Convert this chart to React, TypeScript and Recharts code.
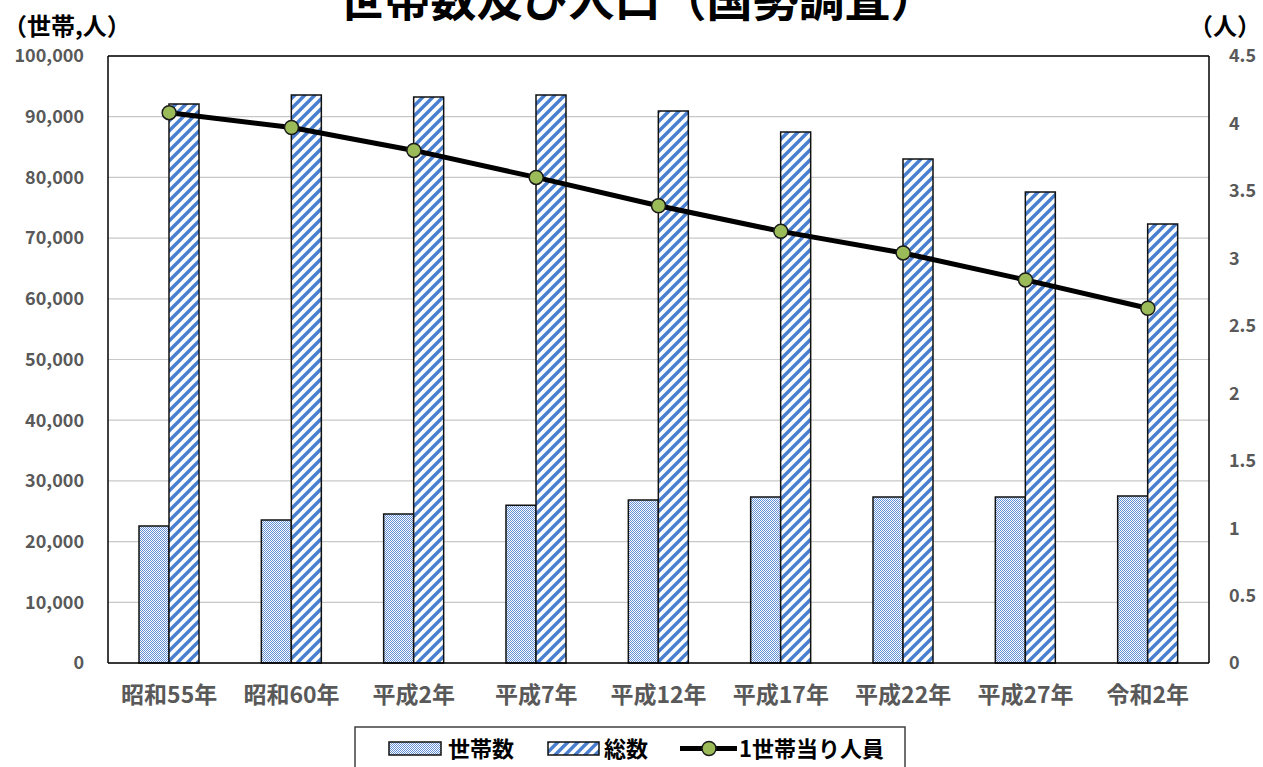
import React from 'react';
import { ComposedChart, Bar, Line, XAxis, YAxis, CartesianGrid, ReferenceLine } from 'recharts';

const categories = ['昭和55年', '昭和60年', '平成2年', '平成7年', '平成12年', '平成17年', '平成22年', '平成27年', '令和2年'];
const households = [22570, 23560, 24550, 26000, 26850, 27350, 27350, 27350, 27500];
const population = [92090, 93570, 93240, 93570, 90940, 87480, 83030, 77590, 72320];
const perHousehold = [4.08, 3.97, 3.8, 3.6, 3.39, 3.2, 3.04, 2.84, 2.63];
const leftTicks = [0, 10000, 20000, 30000, 40000, 50000, 60000, 70000, 80000, 90000, 100000];
const rightTicks = [0, 0.5, 1, 1.5, 2, 2.5, 3, 3.5, 4, 4.5];
const seriesNames = ['世帯数', '総数', '1世帯当り人員'];
const titleText = '世帯数及び人口（国勢調査）';
const leftUnit = '（世帯,人）';
const rightUnit = '（人）';

const data = categories.map((c, i) => ({
  name: c,
  households: households[i],
  population: population[i],
  per: perHousehold[i],
}));

const FONT = "'Noto Sans CJK JP', 'Noto Sans', sans-serif";
const TICK = '#595959';
const BLUE = '#4a7fcf';

const Patterns = () => (
  <svg width={0} height={0} style={{ position: 'absolute' }}>
    <defs>
      <pattern id="checker" patternUnits="userSpaceOnUse" width={2} height={2}>
        <rect x={0} y={0} width={2} height={2} fill="#ffffff" />
        <rect x={0} y={0} width={1} height={1} fill="#6490d8" />
        <rect x={1} y={1} width={1} height={1} fill="#6490d8" />
      </pattern>
      <pattern id="stripes" patternUnits="userSpaceOnUse" width={10} height={10}>
        <rect x={0} y={0} width={10} height={10} fill="#ffffff" />
        <path d="M-2,2 L2,-2 M0,10 L10,0 M8,12 L12,8" stroke={BLUE} strokeWidth={3.4} />
      </pattern>
    </defs>
  </svg>
);

const Dot = (props: any) => {
  const { cx, cy } = props;
  if (cx == null || cy == null) return null;
  return <circle cx={cx} cy={cy} r={7} fill="#9bbb59" stroke="#1a1a1a" strokeWidth={1.5} />;
};

export default function App() {
  return (
    <div style={{ position: 'absolute', left: 0, top: 0, width: 1263, height: 767, overflow: 'hidden', background: '#fff', fontFamily: FONT }}>
      <Patterns />
      <div style={{ position: 'absolute', left: 6, width: 1263, top: -30, textAlign: 'center', fontSize: 46, fontWeight: 700, color: '#000', lineHeight: '52px', whiteSpace: 'nowrap' }}>
        {titleText}
      </div>
      <div style={{ position: 'absolute', left: 3, top: 11, fontSize: 24, fontWeight: 700, color: '#000', lineHeight: '28px', whiteSpace: 'nowrap' }}>{leftUnit}</div>
      <div style={{ position: 'absolute', right: 2, top: 11, fontSize: 24, fontWeight: 700, color: '#000', lineHeight: '28px', whiteSpace: 'nowrap', textAlign: 'right' }}>{rightUnit}</div>
      <ComposedChart width={1263} height={767} data={data} margin={{ top: 56, right: 0, bottom: 44, left: 0 }} barGap={0} barCategoryGap={0}>
        <CartesianGrid horizontal vertical={false} stroke="#c8c8c8" strokeWidth={1.2} yAxisId="left" />
        <XAxis dataKey="name" height={60} axisLine={{ stroke: '#000', strokeWidth: 1.5 }} tickLine={false} tickMargin={18}
          tick={{ fill: TICK, fontSize: 23, fontWeight: 700, fontFamily: FONT }} interval={0} />
        <YAxis yAxisId="left" width={108} domain={[0, 100000]} ticks={leftTicks} axisLine={{ stroke: '#000', strokeWidth: 1.5 }} tickLine={false}
          tickMargin={18} tickFormatter={(v: number) => v.toLocaleString('en-US')}
          tick={{ fill: TICK, fontSize: 18, fontWeight: 700, fontFamily: FONT }} />
        <YAxis yAxisId="right" orientation="right" width={54} domain={[0, 4.5]} ticks={rightTicks} axisLine={{ stroke: '#000', strokeWidth: 1.5 }} tickLine={false}
          tickMargin={14} tick={{ fill: TICK, fontSize: 18, fontWeight: 700, fontFamily: FONT }} />
        <ReferenceLine yAxisId="left" y={100000} stroke="#000" strokeWidth={1.5} />
        <Bar yAxisId="left" dataKey="households" name={seriesNames[0]} barSize={30} fill="url(#checker)" stroke="#111" strokeWidth={1.5} isAnimationActive={false} />
        <Bar yAxisId="left" dataKey="population" name={seriesNames[1]} barSize={30} fill="url(#stripes)" stroke="#111" strokeWidth={1.5} isAnimationActive={false} />
        <Line yAxisId="right" dataKey="per" name={seriesNames[2]} stroke="#000" strokeWidth={5} dot={<Dot />} activeDot={false} isAnimationActive={false} />
      </ComposedChart>
      <svg style={{ position: 'absolute', left: 0, top: 0, pointerEvents: 'none' }} width={1263} height={767}>
        <rect x={355} y={727} width={550} height={60} fill="#fff" stroke="#404040" strokeWidth={1.5} />
        <rect x={389} y={742} width={52} height={13} fill="url(#checker)" stroke="#111" strokeWidth={1.5} />
        <text x={448} y={757} fontSize={22} fontWeight={700} fontFamily={FONT} fill="#000">{seriesNames[0]}</text>
        <rect x={548} y={742} width={51} height={13} fill="url(#stripes)" stroke="#111" strokeWidth={1.5} />
        <text x={604} y={757} fontSize={22} fontWeight={700} fontFamily={FONT} fill="#000">{seriesNames[1]}</text>
        <line x1={680} y1={748.5} x2={737} y2={748.5} stroke="#000" strokeWidth={5} />
        <circle cx={709} cy={748.5} r={7} fill="#9bbb59" stroke="#1a1a1a" strokeWidth={1.5} />
        <text x={739} y={757} fontSize={22} fontWeight={700} fontFamily={FONT} fill="#000">{seriesNames[2]}</text>
      </svg>
    </div>
  );
}
